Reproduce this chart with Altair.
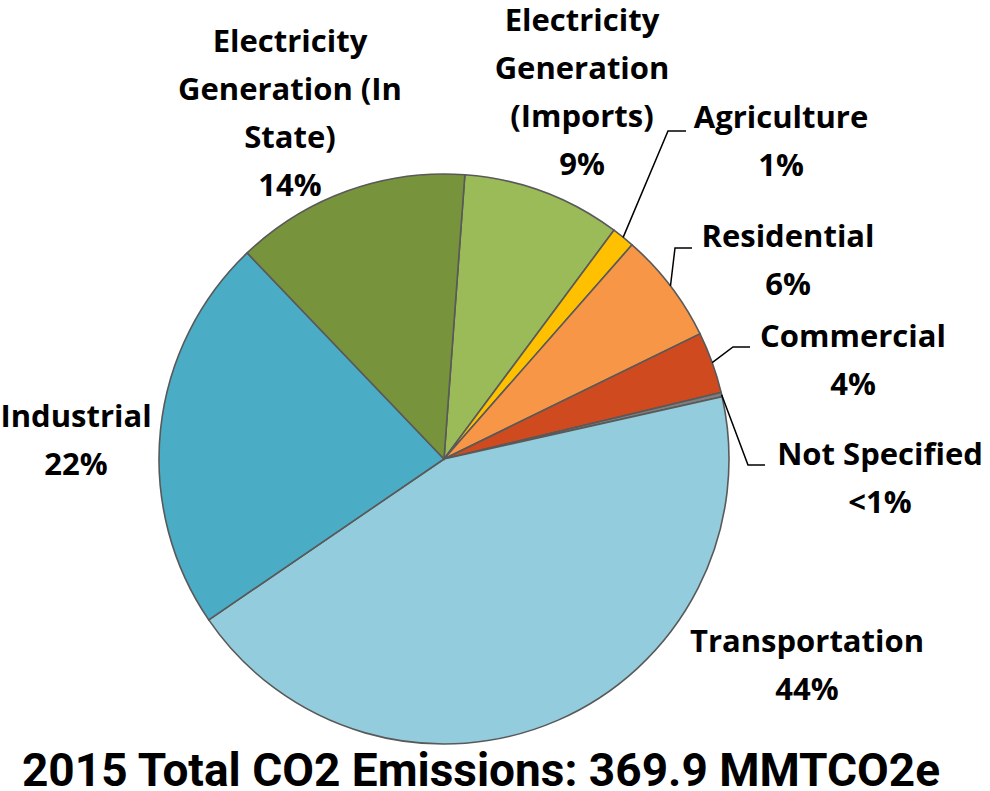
import math
import altair as alt
import pandas as pd

# ---------------- data ----------------
categories = [
    "Electricity Generation (Imports)",
    "Agriculture",
    "Residential",
    "Commercial",
    "Not Specified",
    "Transportation",
    "Industrial",
    "Electricity Generation (In State)",
]
emissions = [33.3, 4.8, 23.3, 12.9, 0.9, 162.6, 82.9, 49.2]  # MMTCO2e, total 369.9
pct_labels = ["9%", "1%", "6%", "4%", "<1%", "44%", "22%", "14%"]
name_labels = [
    "Electricity\nGeneration\n(Imports)",
    "Agriculture",
    "Residential",
    "Commercial",
    "Not Specified",
    "Transportation",
    "Industrial",
    "Electricity\nGeneration (In\nState)",
]
colors = ["#9BBB59", "#FFC000", "#F79646", "#CF4B1F", "#7F7F7F",
          "#93CDDD", "#4BACC6", "#77933C"]
title_text = "2015 Total CO2 Emissions: 369.9 MMTCO2e"

# ---------------- layout ----------------
CX, CY, R = 444, 459, 285
START = math.radians(4.2)
FONT = "Open Sans"

label_pos = {  # centre x, first-line baseline y
    "Electricity Generation (Imports)": (582, 31),
    "Agriculture": (781, 128),
    "Residential": (788, 247),
    "Commercial": (853, 347),
    "Not Specified": (880, 465),
    "Transportation": (807, 652),
    "Industrial": (76, 427),
    "Electricity Generation (In State)": (290, 52),
}
leaders = {  # elbow, end
    "Agriculture": [(668, 131), (686, 131)],
    "Residential": [(675, 248), (692, 248)],
    "Commercial": [(733, 347), (750, 347)],
    "Not Specified": [(748, 465), (765, 465)],
}

df = pd.DataFrame({
    "category": categories,
    "value": emissions,
    "order": list(range(len(categories))),
})

lab_df = pd.DataFrame({
    "category": categories,
    "text": [n + "\n" + p for n, p in zip(name_labels, pct_labels)],
    "lx": [label_pos[c][0] for c in categories],
    "ly": [label_pos[c][1] for c in categories],
})

total = sum(emissions)
rows = []
cum = 0.0
for c, v in zip(categories, emissions):
    mid = START + 2 * math.pi * (cum + v / 2) / total
    cum += v
    if c in leaders:
        pts = [(CX + R * math.sin(mid), CY - R * math.cos(mid))] + leaders[c]
        for i, (px, py) in enumerate(pts):
            rows.append({"category": c, "seq": i, "px": px, "py": py})
line_df = pd.DataFrame(rows)

arcs = alt.Chart(df).mark_arc(
    outerRadius=R, stroke="#595959", strokeWidth=1.6
).encode(
    theta=alt.Theta("value:Q", stack=True,
                    scale=alt.Scale(range=[START, START + 2 * math.pi])),
    color=alt.Color("category:N", scale=alt.Scale(domain=categories, range=colors),
                    legend=None),
    order=alt.Order("order:Q"),
    x=alt.value(CX),
    y=alt.value(CY),
)

lines = alt.Chart(line_df).mark_line(color="black", strokeWidth=1.5).encode(
    x=alt.X("px:Q", scale=None, axis=None),
    y=alt.Y("py:Q", scale=None, axis=None),
    detail="category:N",
    order="seq:Q",
)

texts = alt.Chart(lab_df).mark_text(
    font=FONT, fontWeight="bold", fontSize=31, lineHeight=48,
    align="center", baseline="alphabetic", lineBreak="\n", color="black",
).encode(
    x=alt.X("lx:Q", scale=None, axis=None),
    y=alt.Y("ly:Q", scale=None, axis=None),
    text="text:N",
)

chart = alt.layer(arcs, lines, texts).properties(
    width=990,
    height=745,
    padding={"left": 0, "top": 0, "right": 0, "bottom": 46},
    autosize=alt.AutoSizeParams(type="none"),
    title=alt.TitleParams(
        text=title_text, orient="bottom", anchor="middle",
        font="Roboto", fontWeight="bold", fontSize=46,
        color="black", offset=3, dx=-14,
    ),
).configure_view(strokeWidth=0)

chart.save("out.html", embed_options={"renderer": "svg", "actions": False})
